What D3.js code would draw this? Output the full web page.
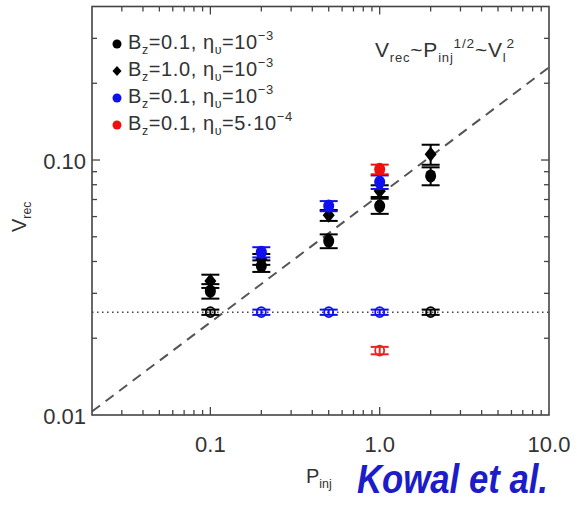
<!DOCTYPE html>
<html lang="en">
<head>
<meta charset="UTF-8">
<title>Vrec vs Pinj</title>
<script src="https://d3js.org/d3.v7.min.js"></script>
<style>
  body { margin: 0; background: #fff; }
  text { font-family: "Liberation Sans", Arial, sans-serif; fill: #333; }
</style>
</head>
<body>
<div id="chart"></div>
<script>
// ====== DATA ======
var pinj = [0.1, 0.2, 0.5, 1.0, 2.0];

// filled markers, Bz=0.1 eta=1e-3 (black circles)
var blackCircleV   = [0.0306, 0.0384, 0.0481, 0.0660, 0.0866];
var blackCircleErr = [0.0020, 0.0020, 0.0030, 0.0045, 0.0070];
// Bz=1.0 eta=1e-3 (black diamonds)
var diamondV   = [0.0335, 0.0408, 0.0607, 0.0756, 0.1053];
var diamondErr = [0.0020, 0.0020, 0.0030, 0.0040, 0.0095];
// Bz=0.1 eta=1e-3 blue
var blueP   = [0.2, 0.5, 1.0];
var blueV   = [0.0435, 0.0660, 0.0820];
var blueErr = [0.0020, 0.0030, 0.0050];
// Bz=0.1 eta=5e-4 red
var redP   = [1.0];
var redV   = [0.0919];
var redErr = [0.0040];

// open circles (lower row)
var openBlackP = [0.1, 2.0];
var openBlackV = [0.0253, 0.0253];
var openBlueP  = [0.2, 0.5, 1.0];
var openBlueV  = [0.0253, 0.0253, 0.0253];
var openRedP   = [1.0];
var openRedV   = [0.0179];
var openErr    = 0.0006;

var dottedLevel = 0.0253;
var scalingCoef = 0.073;   // Vrec = 0.073 * Pinj^(1/2)

var xTickLabels = [{v: 0.1, t: "0.1"}, {v: 1, t: "1.0"}, {v: 10, t: "10.0"}];
var yTickLabels = [{v: 0.1, t: "0.10"}, {v: 0.01, t: "0.01"}];

var legendRows = [
  {color: "#000", shape: "circle",  eta: [["=10", "n"], ["\u22123", "sup"]]},
  {color: "#000", shape: "diamond", bz: "1.0", eta: [["=10", "n"], ["\u22123", "sup"]]},
  {color: "#1010ee", shape: "circle", eta: [["=10", "n"], ["\u22123", "sup"]]},
  {color: "#ee1010", shape: "circle", eta: [["=5\u00b710", "n"], ["\u22124", "sup"]]}
];

// ====== SETUP ======
var W = 577, H = 505;
var margin = {top: 6.5, left: 92, right: 28, bottom: 90};
var width = 457, height = 408.5;

var svg = d3.select("#chart").append("svg")
  .attr("width", W).attr("height", H);

var g = svg.append("g")
  .attr("transform", "translate(" + margin.left + "," + margin.top + ")");

var x = d3.scaleLog().domain([0.02, 10]).range([0, width]);
var y = d3.scaleLog().domain([0.01, 0.4]).range([height, 0]);

var axisColor = "#444";

// minor / major ticks, pointing inward on all four sides
function ticksFor(lo, hi) {
  var out = [];
  for (var e = -3; e <= 2; e++) {
    for (var m = 1; m <= 9; m++) {
      var v = m * Math.pow(10, e);
      if (v > lo * 1.0001 && v < hi * 0.9999) out.push({v: v, major: m === 1});
    }
  }
  return out;
}
var xt = ticksFor(0.02, 10), yt = ticksFor(0.01, 0.4);

g.selectAll(".xtb").data(xt).enter().append("line")
  .attr("x1", function(d) { return x(d.v); }).attr("x2", function(d) { return x(d.v); })
  .attr("y1", height).attr("y2", function(d) { return height - (d.major ? 8 : 5); })
  .attr("stroke", axisColor).attr("stroke-width", 1.3);
g.selectAll(".xtt").data(xt).enter().append("line")
  .attr("x1", function(d) { return x(d.v); }).attr("x2", function(d) { return x(d.v); })
  .attr("y1", 0).attr("y2", function(d) { return d.major ? 8 : 5; })
  .attr("stroke", axisColor).attr("stroke-width", 1.3);
g.selectAll(".ytl").data(yt).enter().append("line")
  .attr("y1", function(d) { return y(d.v); }).attr("y2", function(d) { return y(d.v); })
  .attr("x1", 0).attr("x2", function(d) { return d.major ? 8 : 5; })
  .attr("stroke", axisColor).attr("stroke-width", 1.3);
g.selectAll(".ytr").data(yt).enter().append("line")
  .attr("y1", function(d) { return y(d.v); }).attr("y2", function(d) { return y(d.v); })
  .attr("x1", width).attr("x2", function(d) { return width - (d.major ? 8 : 5); })
  .attr("stroke", axisColor).attr("stroke-width", 1.3);

// tick labels
g.selectAll(".xl").data(xTickLabels).enter().append("text")
  .attr("x", function(d) { return x(d.v); }).attr("y", height + 37)
  .attr("text-anchor", "middle").style("font-size", "22px")
  .text(function(d) { return d.t; });
g.selectAll(".yl").data(yTickLabels).enter().append("text")
  .attr("x", -6).attr("y", function(d) { return y(d.v) + 9; })
  .attr("text-anchor", "end").style("font-size", "22px")
  .text(function(d) { return d.t; });

// clip for lines
g.append("clipPath").attr("id", "clip").append("rect")
  .attr("width", width).attr("height", height);

// dotted reference level
g.append("line")
  .attr("x1", 0).attr("x2", width)
  .attr("y1", y(dottedLevel)).attr("y2", y(dottedLevel))
  .attr("stroke", "#444").attr("stroke-width", 1.5)
  .attr("stroke-dasharray", "1.5,3.5");

// dashed scaling law
var lawPts = [0.02, 10].map(function(p) { return [p, scalingCoef * Math.sqrt(p)]; });
g.append("path")
  .attr("clip-path", "url(#clip)")
  .attr("d", d3.line().x(function(d) { return x(d[0]); }).y(function(d) { return y(d[1]); })(lawPts))
  .attr("fill", "none").attr("stroke", "#555").attr("stroke-width", 2)
  .attr("stroke-dasharray", "10,7");

// ====== MARKERS ======
function errorBars(ps, vs, errs, color) {
  var data = ps.map(function(p, i) { return {p: p, v: vs[i], e: Array.isArray(errs) ? errs[i] : errs}; });
  var eg = g.append("g").attr("stroke", color).attr("stroke-width", 2);
  data.forEach(function(d) {
    var cx = x(d.p), y1 = y(d.v + d.e), y2 = y(d.v - d.e);
    eg.append("line").attr("x1", cx).attr("x2", cx).attr("y1", y1).attr("y2", y2);
    eg.append("line").attr("x1", cx - 9).attr("x2", cx + 9).attr("y1", y1).attr("y2", y1);
    eg.append("line").attr("x1", cx - 9).attr("x2", cx + 9).attr("y1", y2).attr("y2", y2);
  });
  return data;
}

function filledCircles(ps, vs, errs, color) {
  var data = errorBars(ps, vs, errs, color);
  g.selectAll(null).data(data).enter().append("ellipse")
    .attr("cx", function(d) { return x(d.p); }).attr("cy", function(d) { return y(d.v); })
    .attr("rx", 5.5).attr("ry", 6.5).attr("fill", color);
}

function diamonds(ps, vs, errs, color) {
  var data = errorBars(ps, vs, errs, color);
  g.selectAll(null).data(data).enter().append("path")
    .attr("transform", function(d) { return "translate(" + x(d.p) + "," + y(d.v) + ")"; })
    .attr("d", "M0,-7.5L6,0L0,7.5L-6,0Z").attr("fill", color);
}

function openCircles(ps, vs, color) {
  var data = errorBars(ps, vs, openErr, color);
  g.selectAll(null).data(data).enter().append("ellipse")
    .attr("cx", function(d) { return x(d.p); }).attr("cy", function(d) { return y(d.v); })
    .attr("rx", 4.5).attr("ry", 5).attr("fill", "none")
    .attr("stroke", color).attr("stroke-width", 1.8);
}

openCircles(openBlackP, openBlackV, "#000");
openCircles(openBlueP, openBlueV, "#1010ee");
openCircles(openRedP, openRedV, "#ee2020");

filledCircles(pinj, blackCircleV, blackCircleErr, "#000");
diamonds(pinj, diamondV, diamondErr, "#000");
filledCircles(blueP, blueV, blueErr, "#1010ee");
filledCircles(redP, redV, redErr, "#ee1010");

// frame
g.append("rect").attr("width", width).attr("height", height)
  .attr("fill", "none").attr("stroke", axisColor).attr("stroke-width", 1.6);

// ====== TEXT HELPERS ======
function richText(parent, xPos, yPos, parts, size, spacing) {
  var t = parent.append("text").attr("x", xPos).attr("y", yPos)
    .style("font-size", size + "px").style("letter-spacing", (spacing || 0) + "px");
  parts.forEach(function(p) {
    var s = t.append("tspan").text(p[0]);
    if (p[1] === "sub") s.attr("baseline-shift", -size * 0.25 + "px").style("font-size", size * 0.62 + "px");
    if (p[1] === "sup") s.attr("baseline-shift", size * 0.45 + "px").style("font-size", size * 0.65 + "px");
  });
  return t;
}

// legend
var legendTop = 44, legendStep = 27;
legendRows.forEach(function(r, i) {
  var cy = legendTop + i * legendStep;
  if (r.shape === "circle") {
    svg.append("circle").attr("cx", 117).attr("cy", cy).attr("r", 4.5).attr("fill", r.color);
  } else {
    svg.append("path").attr("transform", "translate(117," + cy + ")")
      .attr("d", "M0,-5L4.5,0L0,5L-4.5,0Z").attr("fill", r.color);
  }
  var parts = [["B", "n"], ["z", "sub"], ["=" + (r.bz || "0.1") + ",  \u03b7", "n"], ["\u03c5", "sub"]].concat(r.eta);
  richText(svg, 128, cy + 5, parts, 20, 0.6);
});

// scaling annotation
richText(svg, 375, 57, [["V", "n"], ["rec", "sub"], ["~P", "n"], ["inj", "sub"], ["1/2", "sup"], ["~V", "n"], ["l", "sub"], ["2", "sup"]], 21, 0.8);

// axis titles
richText(svg, 306, 483, [["P", "n"], ["inj", "sub"]], 20);
var yt2 = richText(svg, 0, 0, [["V", "n"], ["rec", "sub"]], 20);
yt2.attr("transform", "translate(26,232) rotate(-90)");

// attribution
svg.append("text").attr("x", 357).attr("y", 493)
  .attr("textLength", 191).attr("lengthAdjust", "spacingAndGlyphs")
  .style("font-size", "40px").style("font-weight", "bold").style("font-style", "italic")
  .style("fill", "#1c1cc8")
  .text("Kowal et al.");
</script>
</body>
</html>
